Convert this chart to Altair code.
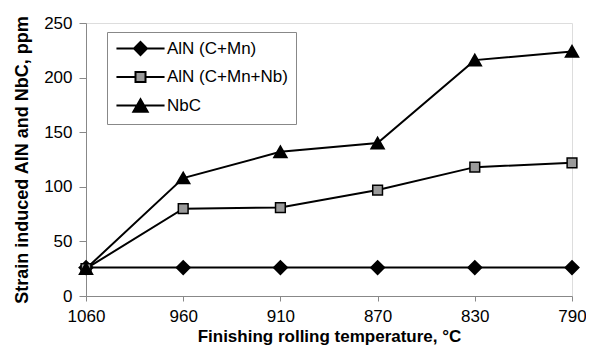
import altair as alt
import pandas as pd

temps = ["1060", "960", "910", "870", "830", "790"]
series_names = ["AlN (C+Mn)", "AlN (C+Mn+Nb)", "NbC"]
aln_cmn = [26, 26, 26, 26, 26, 26]
aln_cmnnb = [25, 80, 81, 97, 118, 122]
nbc = [25, 108, 132, 140, 216, 224]

rows = []
for name, vals in zip(series_names, [aln_cmn, aln_cmnnb, nbc]):
    for t, v in zip(temps, vals):
        rows.append({"temp": t, "value": v, "series": name})
df = pd.DataFrame(rows)

FONT = "Liberation Sans"

x_enc = alt.X(
    "temp:O",
    sort=temps,
    scale=alt.Scale(type="point", padding=0),
    axis=alt.Axis(
        title="Finishing rolling temperature,  °C",
        labelAngle=0,
        labelFontSize=17,
        labelPadding=7,
        tickSize=5,
        titleFontSize=17,
        titleFontWeight="bold",
        titlePadding=4,
    ),
)
y_enc = alt.Y(
    "value:Q",
    scale=alt.Scale(domain=[0, 250]),
    axis=alt.Axis(
        title="Strain induced AlN and NbC, ppm",
        values=[0, 50, 100, 150, 200, 250],
        labelFontSize=17,
        labelPadding=7,
        tickSize=7,
        titleFontSize=18,
        titleFontWeight="bold",
        titlePadding=12,
        grid=False,
    ),
)

base = alt.Chart(df)

lines = base.mark_line(color="black", strokeWidth=2).encode(
    x=x_enc, y=y_enc, detail="series:N"
)

pts_d = base.transform_filter(alt.datum.series == series_names[0]).mark_point(
    shape="diamond", filled=True, fill="black", stroke="black", size=170, opacity=1
).encode(x=x_enc, y=y_enc)
pts_s = base.transform_filter(alt.datum.series == series_names[1]).mark_point(
    shape="square", filled=True, fill="#9a9a9a", stroke="black", strokeWidth=1.5, size=95, opacity=1
).encode(x=x_enc, y=y_enc)
pts_t = base.transform_filter(alt.datum.series == series_names[2]).mark_point(
    shape="triangle-up", filled=True, fill="black", stroke="black", size=150, opacity=1
).encode(x=x_enc, y=y_enc)

legend_paths = [
    "M-3.7,0H3.7M0,-1L1,0L0,1L-1,0Z",
    "M-3.7,0H-0.77M0.77,0H3.7M-0.77,-0.77H0.77V0.77H-0.77Z",
    "M-3.7,0H3.7M0,-0.95L1.1,0.95L-1.1,0.95Z",
]


def make_legend():
    return alt.Legend(
        title=None,
        orient="none",
        legendX=21,
        legendY=9,
        symbolSize=169,
        symbolOffset=17,
        labelOffset=18,
        labelFontSize=17,
        rowPadding=8.5,
        padding=8,
        strokeColor="#888888",
        fillColor="white",
        symbolStrokeWidth=2,
        symbolOpacity=1,
    )


legend_layer = base.transform_filter("false").mark_point(
    filled=True, opacity=1, strokeWidth=2
).encode(
    x=x_enc,
    y=y_enc,
    shape=alt.Shape(
        "series:N",
        scale=alt.Scale(domain=series_names, range=legend_paths),
        legend=make_legend(),
    ),
    fill=alt.Fill(
        "series:N",
        scale=alt.Scale(domain=series_names, range=["black", "#9a9a9a", "black"]),
        legend=make_legend(),
    ),
    stroke=alt.Stroke(
        "series:N",
        scale=alt.Scale(domain=series_names, range=["black", "black", "black"]),
        legend=make_legend(),
    ),
)

chart = alt.layer(lines, pts_d, pts_s, pts_t, legend_layer).properties(
    width=486,
    height=273,
    autosize=alt.AutoSizeParams(type="none"),
    padding={"left": 78, "top": 15, "right": 14, "bottom": 51},
).configure_view(
    stroke="black", strokeWidth=2
).configure_axis(
    domainColor="black",
    domainWidth=2,
    tickColor="black",
    labelColor="black",
    titleColor="black",
    labelFont=FONT,
    titleFont=FONT,
).configure_legend(
    labelFont=FONT, labelColor="black"
).configure(background="white")

chart.save("out.html", embed_options={"renderer": "svg", "actions": False})
